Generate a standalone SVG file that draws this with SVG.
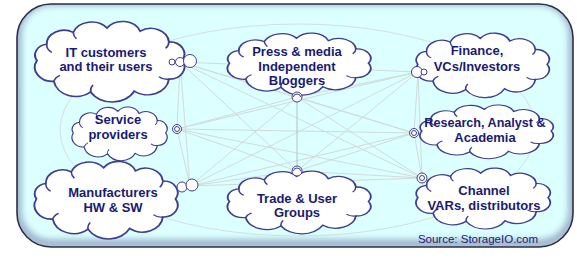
<svg xmlns="http://www.w3.org/2000/svg" width="577" height="261" viewBox="0 0 577 261">
<style>
.cloud{fill:#fff;stroke:#3e3e8e;stroke-width:1.2;vector-effect:non-scaling-stroke}
.crease{fill:none;stroke:#3e3e8e;stroke-width:1;vector-effect:non-scaling-stroke}
.lbl{font-family:"Liberation Sans",Arial,sans-serif;font-weight:bold;font-size:13px;fill:#1a1a73;text-anchor:middle}
.bub{fill:#fff;stroke:#3e3e8e;stroke-width:1}
.mesh line{stroke:#d2dada;stroke-width:1}
</style>
<defs>
<path id="cl" d="M6,30 A8,8 0 0,1 11.9,18 A10.5,10.5 0 0,1 28,9.2 A12,12 0 0,1 48.5,6 A11.5,11.5 0 0,1 68.6,8.3 A11,11 0 0,1 86,16.2 A9,9 0 0,1 94,30 A9,9 0 0,1 86,43.8 A13,13 0 0,1 65,52.6 A15,15 0 0,1 38.6,53.2 A13.5,13.5 0 0,1 16.3,45.4 A10.5,10.5 0 0,1 6,30 Z"/>
<path id="cr" d="M11.9,18 A7,7 0 0,0 15,24 M28,9.2 A8,8 0 0,0 30,14 M86,16.2 A7,7 0 0,1 84,21 M86,43.8 A7,7 0 0,1 80,42 M38.6,53.2 A7,7 0 0,1 40,48 M16.3,45.4 A7,7 0 0,1 20,41"/>
<clipPath id="pc"><rect x="17" y="4" width="556" height="243" rx="34"/></clipPath>
<filter id="blur" x="-5%" y="-5%" width="110%" height="110%"><feGaussianBlur stdDeviation="3"/></filter>
</defs>
<g id="panel">
<rect x="17" y="4" width="556" height="243" rx="34" fill="#dcffff"/>
<g clip-path="url(#pc)">
<rect x="17" y="1" width="556" height="243" rx="34" fill="none" stroke="#8e9fbd" stroke-width="9" filter="url(#blur)" opacity="0.8"/>
</g>
<rect x="17" y="4" width="556" height="243" rx="34" fill="none" stroke="#2c2c4c" stroke-width="1.6"/>
</g>
<g id="connectors">
<ellipse cx="298" cy="130" rx="238" ry="106" fill="none" stroke="#d6dede" stroke-width="1"/>
<g class="mesh">
<line x1="180" y1="62" x2="177" y2="129"/>
<line x1="180" y1="62" x2="190" y2="186"/>
<line x1="180" y1="62" x2="297" y2="97"/>
<line x1="180" y1="62" x2="297" y2="171"/>
<line x1="180" y1="62" x2="418" y2="72"/>
<line x1="180" y1="62" x2="414" y2="133"/>
<line x1="180" y1="62" x2="422" y2="178"/>
<line x1="177" y1="129" x2="190" y2="186"/>
<line x1="177" y1="129" x2="297" y2="97"/>
<line x1="177" y1="129" x2="297" y2="171"/>
<line x1="177" y1="129" x2="418" y2="72"/>
<line x1="177" y1="129" x2="414" y2="133"/>
<line x1="177" y1="129" x2="422" y2="178"/>
<line x1="190" y1="186" x2="297" y2="97"/>
<line x1="190" y1="186" x2="297" y2="171"/>
<line x1="190" y1="186" x2="418" y2="72"/>
<line x1="190" y1="186" x2="414" y2="133"/>
<line x1="190" y1="186" x2="422" y2="178"/>
<line x1="297" y1="97" x2="297" y2="171" style="stroke:#b8c0c0"/>
<line x1="297" y1="97" x2="418" y2="72"/>
<line x1="297" y1="97" x2="414" y2="133"/>
<line x1="297" y1="97" x2="422" y2="178"/>
<line x1="297" y1="171" x2="418" y2="72"/>
<line x1="297" y1="171" x2="414" y2="133"/>
<line x1="297" y1="171" x2="422" y2="178"/>
<line x1="418" y1="72" x2="414" y2="133"/>
<line x1="418" y1="72" x2="422" y2="178"/>
<line x1="414" y1="133" x2="422" y2="178"/>
</g>
</g>
<g id="it-customers">
<g transform="translate(27,20) scale(1.65,1.35)"><use href="#cl" class="cloud"/><use href="#cr" class="crease"/></g>
<circle class="bub" cx="172" cy="62" r="3"/>
<circle class="bub" cx="180" cy="62" r="4.5"/>
<circle class="bub" cx="190" cy="61" r="6.5"/>
<text class="lbl" x="106" y="57">IT customers</text>
<text class="lbl" x="106" y="71">and their users</text>
</g>
<g id="service-providers">
<g transform="translate(67,106) scale(1.05,0.9)"><use href="#cl" class="cloud"/><use href="#cr" class="crease"/></g>
<circle class="bub" cx="177" cy="129" r="4.5"/>
<circle class="bub" cx="177" cy="129" r="2.5"/>
<text class="lbl" x="118" y="124">Service</text>
<text class="lbl" x="118" y="139">providers</text>
</g>
<g id="manufacturers">
<g transform="translate(27,160) scale(1.58,1.3)"><use href="#cl" class="cloud"/><use href="#cr" class="crease"/></g>
<circle class="bub" cx="182" cy="187" r="5"/>
<circle class="bub" cx="192" cy="185" r="6"/>
<text class="lbl" x="113" y="197">Manufacturers</text>
<text class="lbl" x="113" y="212">HW &amp; SW</text>
</g>
<g id="press-media">
<g transform="translate(220,32) scale(1.58,1.04)"><use href="#cl" class="cloud"/><use href="#cr" class="crease"/></g>
<circle class="bub" cx="297" cy="97" r="5"/>
<path d="M293.5,97 A3.5,3 0 0,1 300.5,97" fill="none" stroke="#3e3e8e" stroke-width="1"/>
<text class="lbl" x="297" y="56">Press &amp; media</text>
<text class="lbl" x="297" y="71">Independent</text>
<text class="lbl" x="297" y="85">Bloggers</text>
</g>
<g id="trade-user-groups">
<g transform="translate(220,170) scale(1.58,1.05)"><use href="#cl" class="cloud"/><use href="#cr" class="crease"/></g>
<circle class="bub" cx="297" cy="171" r="5"/>
<path d="M293.5,171 A3.5,3 0 0,1 300.5,171" fill="none" stroke="#3e3e8e" stroke-width="1"/>
<text class="lbl" x="297" y="203">Trade &amp; User</text>
<text class="lbl" x="297" y="217">Groups</text>
</g>
<g id="finance">
<g transform="translate(409,32) scale(1.47,1.08)"><use href="#cl" class="cloud"/><use href="#cr" class="crease"/></g>
<circle class="bub" cx="417" cy="72" r="5.5"/>
<circle class="bub" cx="424" cy="72" r="3"/>
<text class="lbl" x="477" y="55">Finance,</text>
<text class="lbl" x="477" y="71">VCs/Investors</text>
</g>
<g id="research">
<g transform="translate(413,104) scale(1.47,0.9)"><use href="#cl" class="cloud"/><use href="#cr" class="crease"/></g>
<circle class="bub" cx="414" cy="133" r="4.5"/>
<circle class="bub" cx="414" cy="133" r="2.5"/>
<text class="lbl" x="485" y="127" style="font-size:12.6px">Research, Analyst &amp;</text>
<text class="lbl" x="485" y="142">Academia</text>
</g>
<g id="channel">
<g transform="translate(409,167) scale(1.48,1.02)"><use href="#cl" class="cloud"/><use href="#cr" class="crease"/></g>
<circle class="bub" cx="422" cy="178" r="5"/>
<circle class="bub" cx="422" cy="178" r="2.5"/>
<text class="lbl" x="484" y="195">Channel</text>
<text class="lbl" x="484" y="210">VARs, distributors</text>
</g>
<text id="source" x="478" y="243" font-family="'Liberation Sans',Arial,sans-serif" font-size="11.5" fill="#1a1a73" text-anchor="middle">Source: StorageIO.com</text>
</svg>
